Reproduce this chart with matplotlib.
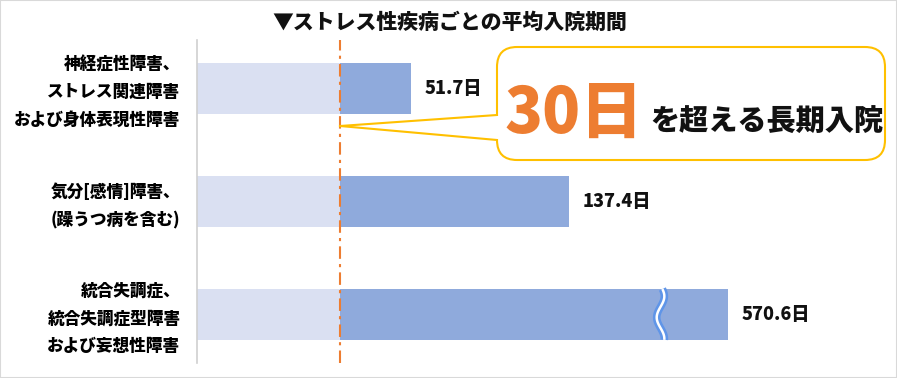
import numpy as np
import matplotlib
matplotlib.use("Agg")
from matplotlib import pyplot as plt
from matplotlib import transforms as mtransforms
from matplotlib.patches import FancyBboxPatch, Polygon, Rectangle

plt.rcParams['font.family'] = ['Noto Sans CJK JP', 'DejaVu Sans']
plt.rcParams['font.weight'] = 'bold'

# データ
categories = [
    "神経症性障害、\nストレス関連障害\nおよび身体表現性障害",
    "気分[感情]障害、\n(躁うつ病を含む)",
    "統合失調症、\n統合失調症型障害\nおよび妄想性障害",
]
avg_days = [51.7, 137.4, 570.6]
value_labels = ["51.7日", "137.4日", "570.6日"]
base_days = 30  # 30日のライン

title = "▼ストレス性疾病ごとの平均入院期間"

# 色
c_light = '#dae0f2'
c_dark = '#8faadc'
c_orange = '#ed7d31'
c_yellow = '#ffc000'

# 横軸: 30日までは線形、それ以降は圧縮 + 省略(波線)
P = 0.7324
K = 1.5634
BRK_LO = 200.0
BRK_HI = 505.0
U_LO = base_days + K * (BRK_LO - base_days) ** P


def fwd(v):
    v = np.asarray(v, dtype=float)
    ex = np.maximum(v - base_days, 0)
    u = np.where(v <= base_days, v, base_days + K * ex ** P)
    hi = U_LO + K * (ex ** P - (BRK_HI - base_days) ** P)
    u = np.where(v >= BRK_HI, hi, np.where(v > BRK_LO, U_LO, u))
    return u


def inv(u):
    u = np.asarray(u, dtype=float)
    a = np.maximum(u - base_days, 0) / K
    mid = base_days + a ** (1 / P)
    b = np.maximum(u - U_LO, 0) / K + (BRK_HI - base_days) ** P
    hi = base_days + b ** (1 / P)
    return np.where(u <= base_days, u, np.where(u <= U_LO, mid, hi))


W, H = 897, 378
fig = plt.figure(figsize=(W / 100, H / 100), dpi=100)
px = mtransforms.Affine2D().scale(1 / W, -1 / H).translate(0, 1) + fig.transFigure

ax_l, ax_r, ax_t, ax_b = 197, 890, 40, 363
ax = fig.add_axes([ax_l / W, 1 - ax_b / H, (ax_r - ax_l) / W, (ax_b - ax_t) / H])
ax.set_xscale('function', functions=(fwd, inv))
xmax_u = (ax_r - ax_l) * base_days / 143.0
ax.set_xlim(0, float(inv(xmax_u)))
ax.set_ylim(2.43, -0.43)

y = np.arange(len(categories))
ax.barh(y, base_days, height=0.45, color=c_light)
ax.barh(y, np.array(avg_days) - base_days, left=base_days, height=0.45, color=c_dark)

for yi, v, lab in zip(y, avg_days, value_labels):
    ax.annotate(lab, (v, yi), xytext=(10, 0), textcoords='offset points',
                va='center', ha='left', fontsize=13, fontweight='heavy', color='#111111')

# 波線(省略記号)
for yi, v in zip(y, avg_days):
    if v > BRK_HI:
        bt = mtransforms.blended_transform_factory(ax.transAxes, ax.transData)
        t = np.linspace(0, 1, 100)
        xf = U_LO / xmax_u + 0.0055 * np.sin(2 * np.pi * 1.2 * t + 0.5)
        yy = yi - 0.225 + 0.45 * t
        ax.plot(xf, yy, transform=bt, color='#5f95e8', lw=5.5, solid_capstyle='butt', clip_on=False)
        ax.plot(xf, yy, transform=bt, color='white', lw=1.8, solid_capstyle='butt', clip_on=False)

ax.axvline(base_days, color=c_orange, lw=1.5, linestyle=(0, (6, 2.5, 1.5, 2.5)), clip_on=False)

ax.set_yticks(y)
ax.set_yticklabels(categories, fontsize=12, fontweight='heavy', linespacing=1.68)
ax.tick_params(axis='y', length=0, pad=12)
shift_up = mtransforms.ScaledTranslation(0, 3 / 100, fig.dpi_scale_trans)
for lab in ax.get_yticklabels():
    lab.set_transform(lab.get_transform() + shift_up)
ax.set_xticks([])
for s in ['top', 'right', 'bottom']:
    ax.spines[s].set_visible(False)
ax.spines['left'].set_color('#d0d0d0')
ax.spines['left'].set_linewidth(1.2)

# タイトル
fig.text(450, 23, title, transform=px, ha='center', va='center',
         fontsize=15, fontweight='heavy', color='#111111')

# 吹き出し
box = FancyBboxPatch((497, 47), 388, 113, boxstyle='round,pad=0,rounding_size=20',
                     transform=px, fc='white', ec=c_yellow, lw=1.5, zorder=5)
fig.patches.append(box)
tail = Polygon([(501, 115), (497, 115), (340, 126), (497, 140), (501, 140)],
               closed=True, transform=px, fc='white', ec='none', zorder=6)
fig.patches.append(tail)
for (x0, y0) in [(497, 115), (497, 140)]:
    fig.lines.append(plt.Line2D([x0, 340], [y0, 126], transform=px, color=c_yellow, lw=1.5, zorder=7))

fig.text(505, 133, "30日", transform=px, ha='left', va='baseline', fontsize=45,
         fontweight='heavy', color=c_orange, zorder=8)
fig.text(650, 131, "を超える長期入院", transform=px, ha='left', va='baseline', fontsize=21,
         fontweight='heavy', color='#111111', zorder=8)

fig.patches.append(Rectangle((0, 0), 1, 1, transform=fig.transFigure, fill=False,
                             ec='#d9d9d9', lw=1.5, zorder=10))

fig.savefig('out.png', dpi=100)
